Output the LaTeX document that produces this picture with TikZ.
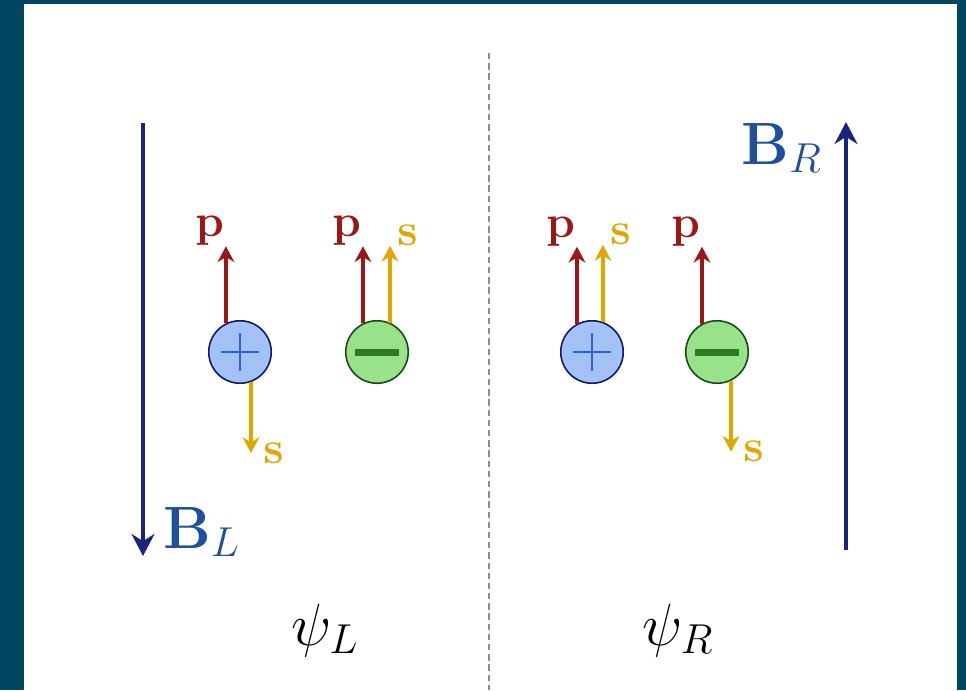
\RequirePackage{fix-cm}
\documentclass[tikz,border=0pt]{standalone}
\usepackage{amsmath}
\usepackage{amssymb}
\usepackage{tikz}
\usetikzlibrary{arrows.meta,positioning}

\definecolor{frameteal}{RGB}{1,71,97}
\definecolor{fieldnavy}{RGB}{26,36,128}
\definecolor{fieldblue}{RGB}{30,80,158}
\definecolor{momred}{RGB}{158,22,22}
\definecolor{spingold}{RGB}{226,166,0}
\definecolor{posfill}{RGB}{164,194,246}
\definecolor{posmark}{RGB}{40,104,204}
\definecolor{negfill}{RGB}{152,226,138}
\definecolor{negmark}{RGB}{44,122,40}

\begin{document}
\begin{tikzpicture}[
    x=0.02cm, y=-0.02cm,
    field/.style={-{Stealth[length=12.5pt,width=13pt]}, line width=2.8pt, draw=fieldnavy},
    fieldlabel/.style={text=fieldblue, font=\fontsize{34}{40}\selectfont, inner sep=0pt},
    momentum/.style={-{Stealth[length=9pt,width=9.5pt]}, line width=1.8pt, draw=momred},
    spin/.style={-{Stealth[length=9pt,width=9.5pt]}, line width=1.8pt, draw=spingold},
    momlabel/.style={text=momred, font=\fontsize{26}{30}\selectfont, inner sep=0pt},
    spinlabel/.style={text=spingold, font=\fontsize{26}{30}\selectfont, inner sep=0pt},
    statelabel/.style={font=\fontsize{34}{40}\selectfont, inner sep=0pt},
    positive/.style={circle, minimum size=1.25cm, inner sep=0pt, line width=0.9pt,
        draw=fieldnavy!70!black, fill=posfill,
        path picture={\draw[posmark, line width=1.2pt]
            (path picture bounding box.center) +(-19,0) -- +(19,0)
            (path picture bounding box.center) +(0,-19) -- +(0,19);}},
    negative/.style={circle, minimum size=1.25cm, inner sep=0pt, line width=0.9pt,
        draw=negmark!60!black, fill=negfill,
        path picture={\fill[negmark]
            (path picture bounding box.center) +(-22,-3.5) rectangle +(22,3.5);}}
]

% Frame
\useasboundingbox (0,0) rectangle (966,690);
\fill[frameteal] (0,0) rectangle (966,690);
\fill[white] (24,4) rectangle (957,690);

% Divider
\coordinate (divtop) at (489,53);
\coordinate (divbot) at (489,690);
\draw[gray!90, line width=1.1pt, dash pattern=on 3.6pt off 2.2pt] (divtop) -- (divbot);

% Fields
\coordinate (BLtail) at (143,123);
\coordinate (BLtip) at (143,556);
\draw[field] (BLtail) -- (BLtip);
\node[fieldlabel, anchor=base west] (labBL) at (163,548) {$\mathbf{B}_L$};

\coordinate (BRtail) at (846,550);
\coordinate (BRtip) at (846,122);
\draw[field] (BRtail) -- (BRtip);
\node[fieldlabel, anchor=base east] (labBR) at (822,164) {$\mathbf{B}_R$};

% Particles
\node[positive] (plusL) at (240,352) {};
\node[negative] (minusL) at (377,352) {};
\node[positive] (plusR) at (592,352) {};
\node[negative] (minusR) at (717,352) {};

% Left, plus
\coordinate[above=1.54cm of plusL.116] (pPLtip);
\coordinate[below=1.42cm of plusL.-70] (sPLtip);
\draw[momentum] (plusL.116) -- (pPLtip);
\draw[spin] (plusL.-70) -- (sPLtip);
\node[momlabel, above left=0pt and 1pt of pPLtip] (labpPL) {$\mathbf{p}$};
\node[spinlabel, right=0.24cm of sPLtip] (labsPL) {$\mathbf{s}$};

% Left, minus
\coordinate[above=1.54cm of minusL.116] (pMLtip);
\coordinate[above=1.54cm of minusL.66] (sMLtip);
\draw[momentum] (minusL.116) -- (pMLtip);
\draw[spin] (minusL.66) -- (sMLtip);
\node[momlabel, above left=0pt and 1pt of pMLtip] (labpML) {$\mathbf{p}$};
\node[spinlabel, above right=0pt and 0.14cm of sMLtip] (labsML) {$\mathbf{s}$};

% Right, plus
\coordinate[above=1.54cm of plusR.118] (pPRtip);
\coordinate[above=1.54cm of plusR.70] (sPRtip);
\draw[momentum] (plusR.118) -- (pPRtip);
\draw[spin] (plusR.70) -- (sPRtip);
\node[momlabel, above left=0pt and 1pt of pPRtip] (labpPR) {$\mathbf{p}$};
\node[spinlabel, above right=0pt and 0.14cm of sPRtip] (labsPR) {$\mathbf{s}$};

% Right, minus
\coordinate[above=1.54cm of minusR.118] (pMRtip);
\coordinate[below=1.42cm of minusR.-64] (sMRtip);
\draw[momentum] (minusR.118) -- (pMRtip);
\draw[spin] (minusR.-64) -- (sMRtip);
\node[momlabel, above left=0pt and 1pt of pMRtip] (labpMR) {$\mathbf{p}$};
\node[spinlabel, right=0.24cm of sMRtip] (labsMR) {$\mathbf{s}$};

% States
\node[statelabel, anchor=base] (psiL) at (325,645) {$\psi_L$};
\node[statelabel, anchor=base] (psiR) at (678,645) {$\psi_R$};

\end{tikzpicture}
\end{document}
